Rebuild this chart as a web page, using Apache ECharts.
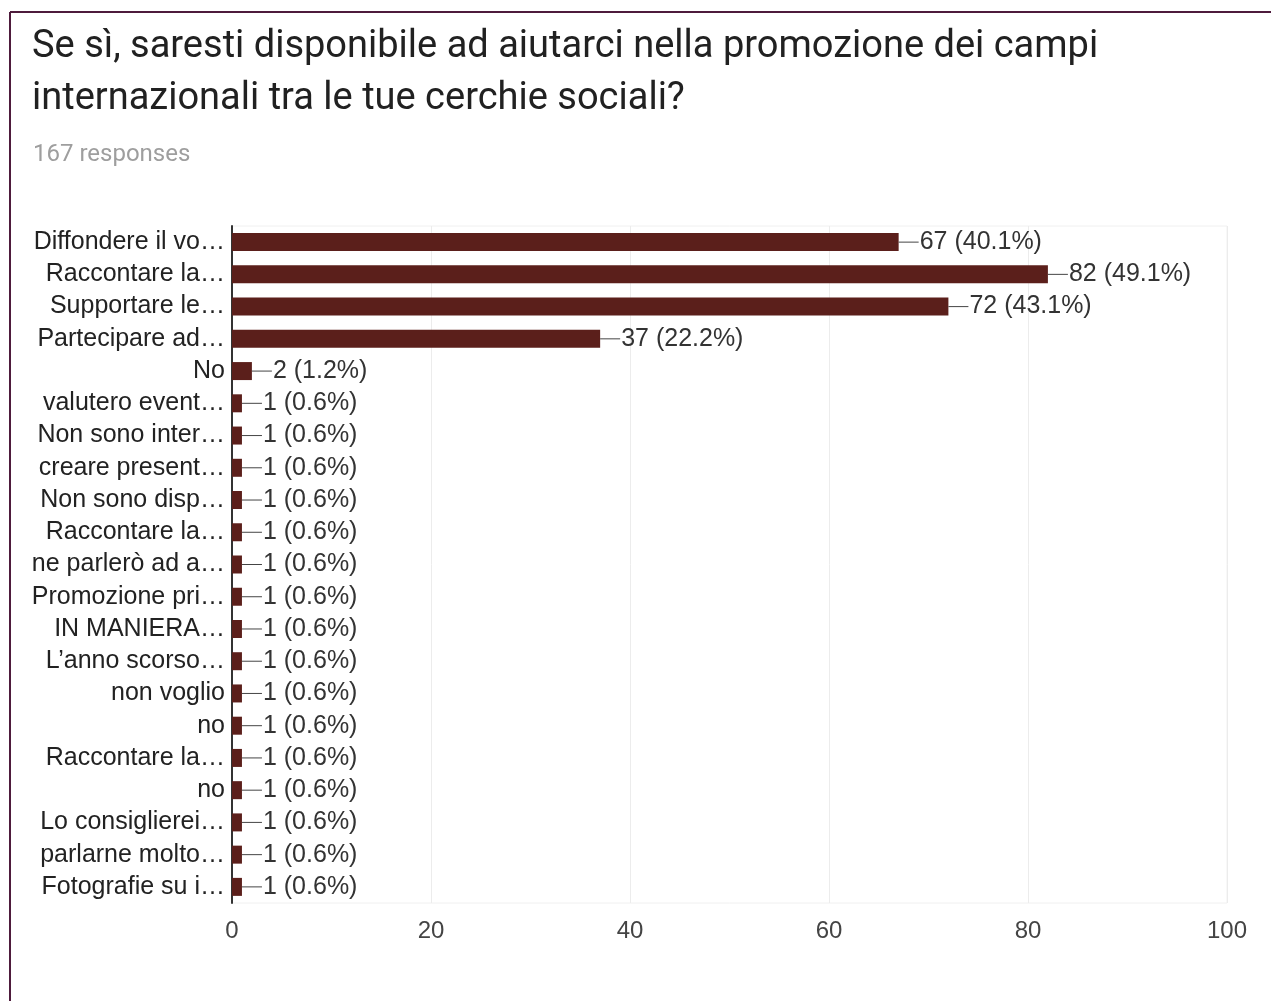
<!DOCTYPE html>
<html>
<head>
<meta charset="utf-8">
<script src="https://cdn.jsdelivr.net/npm/echarts@6/dist/echarts.min.js"></script>
<style>
html,body{margin:0;padding:0;background:#fff;}
#c{width:1271px;height:1001px;}
</style>
</head>
<body>
<div id="c"></div>
<script>
const titleText = 'Se sì, saresti disponibile ad aiutarci nella promozione dei campi\ninternazionali tra le tue cerchie sociali?';
const subtitleText = '167 responses';
const categories = ['Diffondere il vo…','Raccontare la…','Supportare le…','Partecipare ad…','No','valutero event…','Non sono inter…','creare present…','Non sono disp…','Raccontare la…','ne parlerò ad a…','Promozione pri…','IN MANIERA…','L\u2019anno scorso…','non voglio','no','Raccontare la…','no','Lo consiglierei…','parlarne molto…','Fotografie su i…'];
const counts = [67,82,72,37,2,1,1,1,1,1,1,1,1,1,1,1,1,1,1,1,1];
const percents = ['40.1','49.1','43.1','22.2','1.2','0.6','0.6','0.6','0.6','0.6','0.6','0.6','0.6','0.6','0.6','0.6','0.6','0.6','0.6','0.6','0.6'];
const xTicks = [0,20,40,60,80,100];

const chart = echarts.init(document.getElementById('c'));
const font = '"Liberation Sans", Arial, sans-serif';
chart.setOption({
  animation:false,
  backgroundColor:'#fff',
  graphic:[
    {type:'line',shape:{x1:10,y1:12,x2:1271,y2:12},style:{stroke:'#4e1b3c',lineWidth:2}},
    {type:'line',shape:{x1:10,y1:12,x2:10,y2:1001},style:{stroke:'#4e1b3c',lineWidth:2}}
  ],
  title:[
    {text:titleText,left:27,top:16,textStyle:{fontFamily:'Roboto, "Liberation Sans", Arial',fontSize:38,fontWeight:'normal',color:'#212121',lineHeight:52}},
    {text:subtitleText,left:28,top:138,textStyle:{fontFamily:'Roboto, "Liberation Sans", Arial',fontSize:24,fontWeight:'normal',color:'#9e9e9e'}}
  ],
  grid:{left:232,right:44,top:226,bottom:98,show:true,borderColor:'#f0f0f0',borderWidth:1},
  xAxis:{
    type:'value',min:0,max:100,interval:20,
    axisLine:{show:false},axisTick:{show:false},
    splitLine:{show:true,lineStyle:{color:'#ececec',width:1}},
    axisLabel:{fontFamily:font,fontSize:24,color:'#444',margin:16,formatter:v=>xTicks.includes(v)?String(v):''}
  },
  yAxis:{
    type:'category',inverse:true,data:categories,
    axisLine:{show:true,onZero:false,lineStyle:{color:'#333',width:2}},
    axisTick:{show:false},
    splitLine:{show:false},
    axisLabel:{interval:0,hideOverlap:false,fontFamily:font,fontSize:25,color:'#222',margin:7,formatter:(v,i)=>categories[i]}
  },
  series:[{
    type:'bar',data:counts,barWidth:18,
    itemStyle:{color:'#5b1f1b'},
    label:{show:true,position:'right',distance:0,
      formatter:p=>'{l|}{t|'+counts[p.dataIndex]+' ('+percents[p.dataIndex]+'%)}',
      rich:{
        l:{width:20,height:1,backgroundColor:'#444'},
        t:{fontFamily:font,fontSize:25,color:'#333',padding:[0,0,0,1]}
      }
    }
  }]
});
</script>
</body>
</html>
